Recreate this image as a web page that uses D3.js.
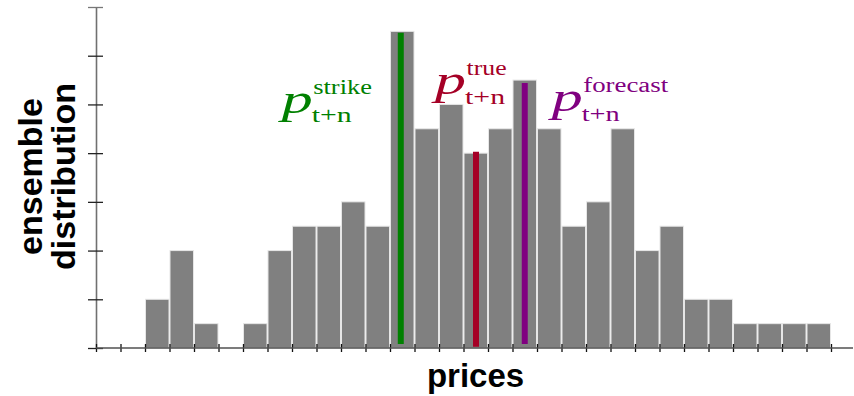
<!DOCTYPE html>
<html>
<head>
<meta charset="utf-8">
<script src="https://cdn.jsdelivr.net/npm/d3@7"></script>
<style>
  html, body { margin: 0; padding: 0; background: #fff; }
  svg { display: block; }
  .serif { font-family: "Liberation Serif", "DejaVu Serif", "Times New Roman", Times, serif; }
</style>
</head>
<body>
<svg id="chart" width="854" height="396"></svg>
<script>
// ---- data ----
const binStarts = d3.range(0, 30);           // price bins (index of bin)
const counts = [0, 0, 2, 4, 1, 0, 1, 4, 5, 5, 6, 5, 13, 9, 10, 8, 9, 11, 9, 5, 6, 9, 4, 5, 2, 2, 1, 1, 1, 1];
const yTicks = [0, 2, 4, 6, 8, 10, 12, 14];
const xTicks = d3.range(0, 31);

const markerNames  = ["strike", "true", "forecast"];
const markerColors = ["#008000", "#a50026", "#800080"];
const markerPrice  = [12.44, 15.51, 17.5];    // x position (bin units)
const markerTop    = [12.94, 8.06, 10.88];    // line top (count units)
const markerBottom = [0.16, 0.05, 0.16];      // line bottom (count units)
const labelX       = [7.58, 13.84, 18.6];     // label anchor (bin units)
const labelY       = [9.66, 10.41, 9.72];     // label baseline (count units)
const supWidth     = [58.7, 40, 85];
const subWidth     = [40, 40, 38];

const xLabel = "prices";
const yLabel = ["ensemble", "distribution"];

// ---- scales ----
const svg = d3.select("#chart");
const x = d3.scaleLinear().domain([0, 30]).range([96, 831]);
const y = d3.scaleLinear().domain([0, 14]).range([348, 7]);

// ---- bars ----
svg.append("g").selectAll("rect")
  .data(binStarts)
  .join("rect")
  .attr("x", i => x(i) + 0.5)
  .attr("width", i => x(i + 1) - x(i) - 1)
  .attr("y", i => y(counts[i]))
  .attr("height", i => y(0) - y(counts[i]))
  .attr("fill", "#808080")
  .attr("stroke", "#e6e6e6")
  .attr("stroke-width", 1)
  .style("display", i => counts[i] > 0 ? null : "none");

// ---- axes ----
const yAxis = svg.append("g")
  .attr("transform", `translate(${x(0)},0)`)
  .call(d3.axisLeft(y).tickValues(yTicks).tickFormat("").tickSizeInner(0).tickSizeOuter(0));
yAxis.select(".domain").attr("stroke", "#707070").attr("stroke-width", 1.6);
yAxis.selectAll(".tick line").attr("x1", -8).attr("x2", 7).attr("stroke", "#222").attr("stroke-width", 1.3);
yAxis.selectAll(".tick").filter(d => d === 14).select("line").attr("stroke", "#777");

const xAxis = svg.append("g")
  .attr("transform", `translate(0,${y(0)})`)
  .call(d3.axisBottom(x).tickValues(xTicks).tickFormat("").tickSizeInner(0).tickSizeOuter(0));
xAxis.select(".domain").remove();
xAxis.append("line")
  .attr("x1", x(0)).attr("x2", x(30) + 22)
  .attr("stroke", "#505050").attr("stroke-width", 1.4);
xAxis.selectAll(".tick line").attr("y1", -4).attr("y2", 4).attr("stroke", "#111").attr("stroke-width", 1.3);

// ---- marker lines ----
svg.append("g").selectAll("line")
  .data(markerNames)
  .join("line")
  .attr("x1", (d, i) => x(markerPrice[i]))
  .attr("x2", (d, i) => x(markerPrice[i]))
  .attr("y1", (d, i) => y(markerTop[i]))
  .attr("y2", (d, i) => y(markerBottom[i]))
  .attr("stroke", (d, i) => markerColors[i])
  .attr("stroke-width", 6);

// ---- marker labels ----
const lab = svg.append("g").selectAll("g")
  .data(markerNames)
  .join("g")
  .attr("transform", (d, i) => `translate(${x(labelX[i])},${y(labelY[i])})`)
  .attr("fill", (d, i) => markerColors[i]);

lab.append("text")
  .attr("class", "serif")
  .attr("x", 0).attr("y", 0)
  .style("font-style", "italic")
  .style("font-size", "42px")
  .attr("textLength", 31)
  .attr("lengthAdjust", "spacingAndGlyphs")
  .text("p");

lab.append("text")
  .attr("class", "serif")
  .attr("x", 31.5).attr("y", -19)
  .style("font-size", "20px")
  .attr("textLength", (d, i) => supWidth[i])
  .attr("lengthAdjust", "spacingAndGlyphs")
  .text(d => d);

lab.append("text")
  .attr("class", "serif")
  .attr("x", 30).attr("y", 9.3)
  .style("font-size", "21px")
  .attr("textLength", (d, i) => subWidth[i])
  .attr("lengthAdjust", "spacingAndGlyphs")
  .text("t+n");

// ---- axis titles ----
svg.append("text")
  .attr("x", 475.5).attr("y", 387)
  .attr("text-anchor", "middle")
  .style("font-family", "'Liberation Sans', Arial, sans-serif")
  .style("font-weight", "bold")
  .style("font-size", "33px")
  .attr("fill", "#000")
  .text(xLabel);

svg.append("g").selectAll("text")
  .data(yLabel)
  .join("text")
  .attr("transform", (d, i) => `translate(${i === 0 ? 42 : 75},176.5) rotate(-90)`)
  .attr("text-anchor", "middle")
  .style("font-family", "'Liberation Sans', Arial, sans-serif")
  .style("font-weight", "bold")
  .style("font-size", "34px")
  .attr("fill", "#000")
  .text(d => d);
</script>
</body>
</html>
